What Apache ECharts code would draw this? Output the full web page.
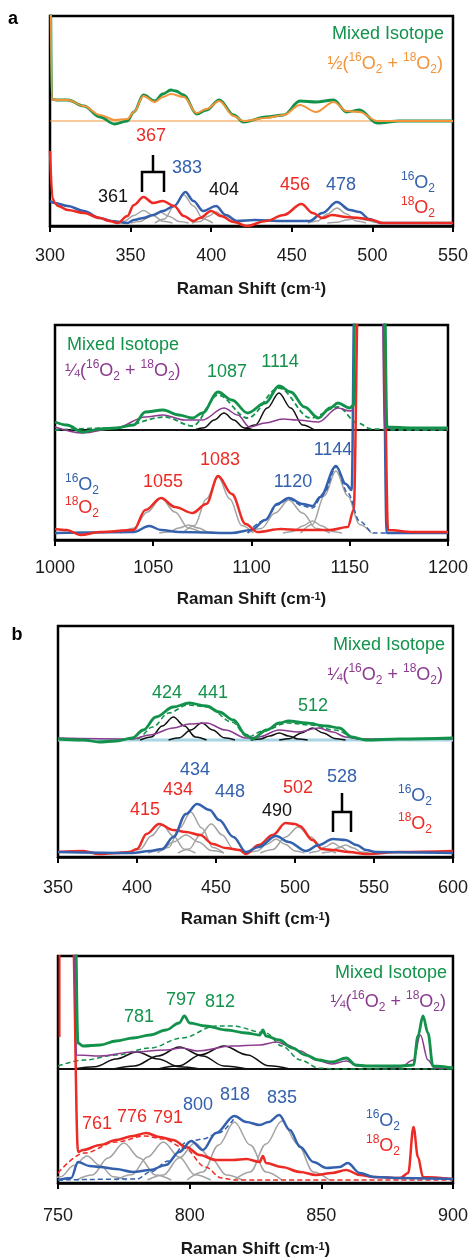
<!DOCTYPE html>
<html>
<head>
<meta charset="utf-8">
<script src="https://cdn.jsdelivr.net/npm/echarts@6/dist/echarts.min.js"></script>
<style>
  html, body { margin: 0; padding: 0; background: #fff; }
  #chart { width: 471px; height: 1259px; }
</style>
</head>
<body>
<div id="chart"></div>
<script type="text/javascript">
    // ---------- data: [Raman shift (cm-1), intensity above its own baseline (a.u.)] ----------
    // 260 = off scale (peak runs past the top of the frame)

    // panel a, 300-550
    var aMixed = [[300,260],[301,22],[304,21],[311,21],[321,15],[331,4],[340,-3],[348,0],[352,9],[358,26],[365,20],[370,27],[375,31],[378,30],[383,26],[391,7],[397,11],[405,21],[414,6],[420,-1],[434,4],[445,6],[455,20],[465,19],[476,21],[484,9],[492,11],[503,-2],[517,0],[550,0]];
    var aHalf = [[300,260],[301,22],[304,21],[311,21],[321,15],[331,6],[340,1],[348,2],[352,9],[358,25],[365,19],[370,24],[375,27],[383,24],[391,8],[397,12],[405,20],[414,5],[420,0],[434,3],[445,6],[455,16],[465,9],[476,19],[484,10],[492,9],[503,0],[550,0]];
    var a16 = [[300,22],[303,20],[311,17],[321,12],[331,5],[338,2],[348,0],[352,3],[358,5],[364,8],[370,12],[377,17],[384,31],[389,22],[395,12],[403,17],[409,8],[416,2],[427,3],[445,2],[461,2],[469,10],[478,21],[486,13],[492,11],[498,4],[505,0],[550,0]];
    var a18 = [[300,72],[301.5,25],[303,20],[305,17],[311,13],[321,10],[331,5],[337,2],[342,0],[348,7],[352,18],[358,26],[364,20],[370,22],[377,17],[383,7],[389,2],[393,5],[400,12],[406,7],[414,1],[422,-3],[434,2],[445,8],[456,19],[463,10],[469,5],[475,8],[484,6],[492,5],[500,3],[506,0],[550,0]];
    var aFitLo = [
        [[340,0],[346,1.7],[352,7.5],[358,12.5],[364,7.5],[370,1.7],[376,0]],
        [[350,0],[356,1.5],[362,6.6],[368,11],[374,6.6],[380,1.5],[386,0]],
        [[365,0],[371,4],[377,17],[383,28],[389,17],[395,4],[401,0]],
        [[388,0],[393,1.5],[398,6.6],[403,11],[408,6.6],[413,1.5],[418,0]],
        [[460,0],[466,2],[472,9],[478,15],[484,9],[490,2],[496,0]],
        [[472,0],[478,0.7],[484,3],[490,5],[496,3],[502,0.7],[508,0]]
    ];

    // panel a, 1000-1200
    var aMixedHi = [[1000,8],[1006,5],[1014,-2],[1023,1],[1031,2],[1040,5],[1046,18],[1055,20],[1063,15],[1070,12],[1075,17],[1083,38],[1090,30],[1098,17],[1107,27],[1114,44],[1120,38],[1127,23],[1134,12],[1140,22],[1144,27],[1150,22],[1152,25],[1153,260],[1167,260],[1169,3],[1182,2],[1200,2]];
    var aQuarter = [[1000,3],[1014,-3],[1031,2],[1046,13],[1055,15],[1066,10],[1075,10],[1086,22],[1093,15],[1099,3],[1107,7],[1116,11],[1123,10],[1134,8],[1144,22],[1150,19],[1152,20],[1153,260],[1166,260],[1167.5,2],[1200,1]];
    var aMixedFit = [[1000,0],[1030,2],[1056,13],[1070,4],[1083,35],[1098,12],[1114,42],[1130,12],[1144,23],[1154,7],[1161,1],[1175,0],[1200,0]];
    var aMixedComp = [
        [[1071,0],[1076,2.3],[1081,10],[1086,17],[1091,10],[1096,2.3],[1101,0]],
        [[1096,0],[1102,5],[1108,22],[1114,37],[1120,22],[1126,5],[1132,0]]
    ];
    var a16b = [[1000,0],[1040,1],[1048,7],[1054,3],[1063,1],[1090,0],[1100,3],[1107,13],[1113,29],[1119,35],[1126,29],[1131,27],[1135,36],[1143,67],[1148,49],[1151,43],[1152.5,260],[1166.8,260],[1168.8,0],[1200,0]];
    var a16bFit = [[1098,0],[1107,13],[1113,28],[1119,34],[1126,27],[1131,25],[1137,40],[1143,66],[1149,40],[1155,12],[1162,0],[1170,0]];
    var a18b = [[1000,4],[1006,3],[1013,-2],[1023,1],[1040,3],[1046,23],[1054,35],[1061,26],[1070,20],[1077,29],[1083,57],[1090,39],[1097,9],[1103,1],[1115,4],[1124,3],[1140,3],[1149,6],[1152,23],[1154.5,260],[1167,260],[1169.5,3],[1182,1],[1200,1]];
    var aFitLoB = [
        [[1033,0],[1040,4.8],[1047,21],[1054,35],[1061,21],[1068,4.8],[1075,0]],
        [[1053,0],[1058,1],[1063,5],[1068,8],[1073,5],[1078,1],[1083,0]],
        [[1065,0],[1071,7.6],[1077,34],[1083,56],[1089,34],[1095,7.6],[1101,0]],
        [[1098,0],[1105,4.5],[1112,20],[1119,33],[1126,20],[1133,4.5],[1140,0]],
        [[1116,0],[1121,1.6],[1126,7],[1131,12],[1136,7],[1141,1.6],[1146,0]],
        [[1125,0],[1131,8.4],[1137,37],[1143,62],[1149,37],[1155,8.4],[1161,0]]
    ];

    // panel b, 350-600
    var bMixed = [[350,1],[366,0],[376,-2],[387,-1],[397,2],[404,10],[412,23],[423,33],[433,37],[444,34],[452,28],[461,20],[469,5],[473,1],[482,10],[490,17],[496,19],[507,17],[520,14],[528,12],[536,3],[545,0],[566,1],[600,2]];
    var bQuarter = [[350,2],[397,1],[408,5],[423,12],[433,16],[444,17],[456,10],[469,2],[477,3],[490,10],[502,8],[515,12],[524,8],[532,3],[541,1],[600,1]];
    var bMixedFit = [[390,0],[400,1],[410,13],[420,27],[432,35],[445,33],[460,18],[470,3],[480,9],[495,17],[510,15],[525,10],[540,1],[550,0]];
    var bMixedComp = [
        [[402,0],[409,3],[416,14],[423,23],[430,14],[437,3],[444,0]],
        [[420,0],[427,2.3],[434,10],[441,17],[448,10],[455,2.3],[462,0]],
        [[472,0],[478,1],[484,4],[490,7],[496,4],[502,1],[508,0]],
        [[490,0],[497,1.6],[504,7],[511,12],[518,7],[525,1.6],[532,0]]
    ];
    var b18 = [[350,1],[366,2],[376,-1],[387,0],[395,1],[400,4],[406,19],[414,29],[423,23],[431,21],[440,18],[448,9],[456,5],[465,3],[469,-1],[477,8],[486,18],[494,30],[500,29],[503,27],[511,13],[517,4],[524,3],[534,1],[545,-1],[566,1],[600,2]];
    var b16 = [[350,1],[397,0],[408,2],[416,4],[423,16],[431,39],[438,49],[446,43],[452,33],[461,16],[469,1],[477,6],[488,17],[496,11],[507,2],[515,8],[524,14],[532,13],[539,8],[545,3],[551,1],[600,0]];
    var bFitLo = [
        [[395,0],[402,3.8],[409,17],[416,28],[423,17],[430,3.8],[437,0]],
        [[407,0],[415,2.4],[423,11],[431,18],[439,11],[447,2.4],[455,0]],
        [[413,0],[420,5.5],[427,25],[434,41],[441,25],[448,5.5],[455,0]],
        [[426,0],[433,4],[440,18],[447,29],[454,18],[461,4],[468,0]],
        [[470,0],[476,2],[482,8.5],[488,14],[494,8.5],[500,2],[506,0]],
        [[478,0],[486,3.5],[494,16],[502,26],[510,16],[518,3.5],[526,0]],
        [[509,0],[514,1.4],[519,6],[524,10],[529,6],[534,1.4],[539,0]],
        [[517,0],[522,1],[527,5],[532,8],[537,5],[542,1],[547,0]]
    ];

    // panel b, 750-900
    var bbMixed = [[750,260],[756,260],[757.6,26],[759.5,23],[766,24],[772,28],[778.5,31],[785,34],[791,39],[796,46],[798,53],[800,46],[806,43],[814,39],[821.5,36],[826.6,34],[827.8,39],[829,33],[834,29],[839,21],[844,14],[849,9],[854,7],[859.5,11],[863,4],[867,3],[880,3],[885,4],[886.7,33],[888.6,53],[890.5,36],[892.4,3],[900,1]];
    var bbQuarter = [[750,260],[755.5,260],[757,14],[766,13],[778.5,17],[791,19],[797,21],[803,18],[816,23],[826.6,24],[833,27],[837,24],[842,18],[848,9],[854,5],[859.5,8],[864,3],[880,2],[885,9],[887.6,34],[890.5,9],[893,1],[900,1]];
    var bbRedHi = [[750.6,32],[750.6,260]];
    var bbMixedFit = [[750,3],[760,9],[772,14],[785,21],[797,31],[810,43],[816,43],[829,36],[835,23],[842,9],[849,1],[855,0],[900,0]];
    var bbMixedComp = [
        [[756,0],[764,2.3],[772,10],[780,17],[788,10],[796,2.3],[804,0]],
        [[771,0],[779,3],[788,13],[796,22],[805,13],[813,3],[822,0]],
        [[788,0],[796,3.2],[804,14],[813,23],[822,14],[830,3.2],[838,0]]
    ];
    var bb18 = [[750,260],[755.5,260],[757.6,28],[759.5,30],[766,35],[772,40],[778.5,44],[783.5,47],[788.6,43],[793.7,40],[798.7,33],[803.8,25],[810,20],[816.5,20],[821.5,21],[826.6,18],[827.8,24],[829,17],[835,13],[842,8],[848,5],[854,7],[859.5,10],[864.6,5],[870,3],[880,2],[883,7],[885,53],[886.7,23],[888.6,3],[900,1]];
    var bb16 = [[750,0],[755,2],[757.6,18],[762,14],[766,13],[772,11],[778.5,8],[785,10],[791,15],[796,28],[800.6,39],[805,30],[810,47],[817,64],[821.5,58],[826.6,55],[830,58],[834,65],[838,50],[842,33],[847,18],[852,12],[857,13],[860,17],[864.6,7],[870,3],[880,2],[900,1]];
    var bb18Fit = [[750,7],[760,27],[772,38],[783,44],[790,41],[798,32],[806,13],[812,2],[817,0],[900,0]];
    var bb16Fit = [[750,0],[780,1],[785,8],[792,19],[799,38],[805,41],[811,47],[817,62]];
    var bbFitLo = [
        [[746,0],[751,3.2],[756,14.5],[761,24],[766,14.5],[771,3.2],[776,0]],
        [[757,0],[763,5],[769,22],[775,37],[781,22],[787,5],[793,0]],
        [[772,0],[778,5.2],[784,23],[790,38],[796,23],[802,5.2],[808,0]],
        [[784,0],[790,5],[796,22],[802,37],[808,22],[814,5],[820,0]],
        [[799,0],[805,8],[811,35],[817,58],[823,35],[829,8],[835,0]],
        [[817,0],[823,8],[829,36],[835,59],[841,36],[847,8],[853,0]]
    ];

    // x ranges of the four panels
    var xMins = [300, 1000, 350, 750];
    var xMaxs = [550, 1200, 600, 900];

    // ---------- layout ----------
    var GREEN = '#12924a', ORANGE = '#f4943a', BLUE = '#3461ad', RED = '#ed2b25';
    var PURPLE = '#8b3a8f', GRAY = '#a3a3a3', BLACK = '#111', LIGHTBLUE = '#a8d4e4';
    var FONT = 'Liberation Sans';

    var grids = [
        {left: 50, top: 16, width: 403, height: 210},
        {left: 55, top: 325, width: 397, height: 215},
        {left: 58, top: 626, width: 396, height: 231},
        {left: 58, top: 956, width: 395, height: 227}
    ];
    // baseline of upper (mixed) and lower (16O2/18O2) traces, in axis units
    var hiOff = [105, 110, 117, 114];
    var loOff = [3, 7, 4, 3];
    var labelMargin = [21, 19, 22, 24];
    var nameGap = [55, 51, 54, 58];

    function shift(data, off){
        return data.map(function(p){ return [p[0], p[1] + off]; });
    }

    function line(g, data, off, color, width, dashed, z){
        return {
            type: 'line',
            xAxisIndex: g,
            yAxisIndex: g,
            data: shift(data, off),
            showSymbol: false,
            symbol: 'none',
            smooth: 0.35,
            smoothMonotone: 'x',
            silent: true,
            z: z || 2,
            lineStyle: {color: color, width: width, type: dashed ? [5, 3] : 'solid'}
        };
    }

    function flat(g, off, color, width){
        return line(g, [[xMins[g], 0], [xMaxs[g], 0]], off, color, width, false, 1);
    }

    var series = [];
    function addAll(g, list, off, color, width, z){
        list.forEach(function(d){ series.push(line(g, d, off, color, width, false, z)); });
    }

    // panel a (300-550)
    series.push(flat(0, hiOff[0], ORANGE, 1.2));
    addAll(0, aFitLo, loOff[0], GRAY, 1.5, 2);
    series.push(line(0, a18, loOff[0], RED, 2.5, false, 4));
    series.push(line(0, a16, loOff[0], BLUE, 2.5, false, 3));
    series.push(line(0, aMixed, hiOff[0], GREEN, 2.8, false, 4));
    series.push(line(0, aHalf, hiOff[0], ORANGE, 2, false, 5));

    // panel a (1000-1200)
    series.push(flat(1, hiOff[1], BLACK, 2));
    addAll(1, aFitLoB, loOff[1], GRAY, 1.5, 2);
    series.push(line(1, a16bFit, loOff[1], BLUE, 1.5, true, 3));
    series.push(line(1, a16b, loOff[1], BLUE, 2.5, false, 3));
    series.push(line(1, a18b, loOff[1], RED, 2.5, false, 4));
    addAll(1, aMixedComp, hiOff[1], BLACK, 1.5, 3);
    series.push(line(1, aMixedFit, hiOff[1], GREEN, 1.8, true, 3));
    series.push(line(1, aQuarter, hiOff[1], PURPLE, 1.5, false, 4));
    series.push(line(1, aMixedHi, hiOff[1], GREEN, 2.8, false, 5));

    // panel b (350-600)
    series.push(flat(2, hiOff[2], LIGHTBLUE, 3));
    addAll(2, bFitLo, loOff[2], GRAY, 1.5, 2);
    series.push(line(2, b18, loOff[2], RED, 2.5, false, 3));
    series.push(line(2, b16, loOff[2], BLUE, 2.5, false, 4));
    addAll(2, bMixedComp, hiOff[2], BLACK, 1.5, 3);
    series.push(line(2, bMixedFit, hiOff[2], GREEN, 1.5, true, 3));
    series.push(line(2, bQuarter, hiOff[2], PURPLE, 1.5, false, 4));
    series.push(line(2, bMixed, hiOff[2], GREEN, 2.8, false, 5));

    // panel b (750-900)
    series.push(flat(3, hiOff[3], BLACK, 2));
    addAll(3, bbFitLo, loOff[3], GRAY, 1.5, 2);
    series.push(line(3, bb18Fit, loOff[3], RED, 1.5, true, 3));
    series.push(line(3, bb16Fit, loOff[3], BLUE, 1.5, true, 3));
    series.push(line(3, bb18, loOff[3], RED, 2.5, false, 4));
    series.push(line(3, bb16, loOff[3], BLUE, 2.5, false, 4));
    addAll(3, bbMixedComp, hiOff[3], BLACK, 1.5, 3);
    series.push(line(3, bbMixedFit, hiOff[3], GREEN, 1.5, true, 3));
    var redHi = line(3, bbRedHi, hiOff[3], RED, 2, false, 4);
    redHi.smooth = false;
    series.push(redHi);
    series.push(line(3, bbQuarter, hiOff[3], PURPLE, 1.5, false, 4));
    series.push(line(3, bbMixed, hiOff[3], GREEN, 2.8, false, 5));

    // ---------- axes ----------
    var xAxes = [], yAxes = [];
    for (var i = 0; i < 4; i++) {
        xAxes.push({
            type: 'value',
            gridIndex: i,
            min: xMins[i],
            max: xMaxs[i],
            interval: 50,
            name: 'Raman Shift (cm{s|-1})',
            nameLocation: 'middle',
            nameGap: nameGap[i],
            nameTextStyle: {
                fontFamily: FONT, fontSize: 17, fontWeight: 'bold', color: '#1a1a1a',
                rich: {s: {fontFamily: FONT, fontSize: 11, fontWeight: 'bold', verticalAlign: 'top', lineHeight: 10, color: '#1a1a1a'}}
            },
            axisLine: {onZero: false, lineStyle: {color: '#000', width: 2.5}},
            axisTick: {inside: false, length: 6, lineStyle: {color: '#000', width: 2}},
            axisLabel: {
                fontFamily: FONT, fontSize: 18, color: '#1a1a1a', margin: labelMargin[i],
                formatter: function(v){ return String(v); }
            },
            splitLine: {show: false}
        });
        yAxes.push({type: 'value', gridIndex: i, min: 0, max: grids[i].height, show: false});
        grids[i].show = true;
        grids[i].borderColor = '#000';
        grids[i].borderWidth = 2.5;
        grids[i].backgroundColor = 'transparent';
    }

    // ---------- annotations ----------
    var rich = {
        s: {fontFamily: FONT, fontSize: 12, verticalAlign: 'top', lineHeight: 12},
        b: {fontFamily: FONT, fontSize: 12, verticalAlign: 'bottom', lineHeight: 12},
        n: {fontFamily: FONT, fontSize: 18, lineHeight: 24}
    };
    var O16 = '{s|16}{n|O}{b|2}';
    var O18 = '{s|18}{n|O}{b|2}';
    var half = '{n|½(}' + O16 + '{n| + }' + O18 + '{n|)}';
    var quarter = '{n|¼(}' + O16 + '{n| + }' + O18 + '{n|)}';

    function txt(x, y, text, color, align, bold){
        return {
            type: 'text', silent: true, z: 20,
            style: {
                x: x, y: y, text: text, fill: color,
                fontFamily: FONT, fontSize: 18, fontWeight: bold ? 'bold' : 'normal',
                align: align || 'center', verticalAlign: 'middle', rich: rich
            }
        };
    }
    function bracket(x, yTop, yMid, yBot, half){
        return [
            {type: 'polyline', silent: true, z: 20, shape: {points: [[x - half, yBot], [x - half, yMid], [x + half, yMid], [x + half, yBot]]}, style: {stroke: '#000', lineWidth: 2.5, fill: null}},
            {type: 'line', silent: true, z: 20, shape: {x1: x, y1: yTop, x2: x, y2: yMid}, style: {stroke: '#000', lineWidth: 2.5}}
        ];
    }

    var graphics = [
        txt(13, 19, 'a', '#000', 'center', true),
        txt(444, 34, 'Mixed Isotope', GREEN, 'right'),
        txt(443, 64, half, ORANGE, 'right'),
        txt(151, 136, '367', RED),
        txt(113, 197, '361', BLACK),
        txt(187, 168, '383', BLUE),
        txt(224, 190, '404', BLACK),
        txt(295, 185, '456', RED),
        txt(341, 185, '478', BLUE),
        txt(435, 183, O16, BLUE, 'right'),
        txt(435, 208, O18, RED, 'right'),

        txt(67, 345, 'Mixed Isotope', GREEN, 'left'),
        txt(65, 371, quarter, PURPLE, 'left'),
        txt(227, 372, '1087', GREEN),
        txt(280, 362, '1114', GREEN),
        txt(333, 450, '1144', BLUE),
        txt(220, 460, '1083', RED),
        txt(163, 482, '1055', RED),
        txt(293, 482, '1120', BLUE),
        txt(65, 485, O16, BLUE, 'left'),
        txt(65, 508, O18, RED, 'left'),

        txt(17, 635, 'b', '#000', 'center', true),
        txt(445, 645, 'Mixed Isotope', GREEN, 'right'),
        txt(443, 675, quarter, PURPLE, 'right'),
        txt(167, 693, '424', GREEN),
        txt(213, 693, '441', GREEN),
        txt(313, 706, '512', GREEN),
        txt(195, 770, '434', BLUE),
        txt(178, 790, '434', RED),
        txt(230, 792, '448', BLUE),
        txt(145, 810, '415', RED),
        txt(277, 811, '490', BLACK),
        txt(298, 788, '502', RED),
        txt(342, 777, '528', BLUE),
        txt(432, 796, O16, BLUE, 'right'),
        txt(432, 824, O18, RED, 'right'),

        txt(447, 973, 'Mixed Isotope', GREEN, 'right'),
        txt(446, 1002, quarter, PURPLE, 'right'),
        txt(139, 1017, '781', GREEN),
        txt(181, 1000, '797', GREEN),
        txt(220, 1002, '812', GREEN),
        txt(97, 1124, '761', RED),
        txt(132, 1117, '776', RED),
        txt(168, 1118, '791', RED),
        txt(198, 1105, '800', BLUE),
        txt(235, 1095, '818', BLUE),
        txt(282, 1098, '835', BLUE),
        txt(400, 1121, O16, BLUE, 'right'),
        txt(400, 1146, O18, RED, 'right')
    ];
    graphics = graphics.concat(bracket(153, 155, 172, 192, 11));
    graphics = graphics.concat(bracket(342, 793, 812, 832, 9));

    var chart = echarts.init(document.getElementById('chart'), null, {renderer: 'canvas'});
    chart.setOption({
        backgroundColor: '#fff',
        animation: false,
        grid: grids,
        xAxis: xAxes,
        yAxis: yAxes,
        series: series,
        graphic: graphics
    });
</script>
</body>
</html>
